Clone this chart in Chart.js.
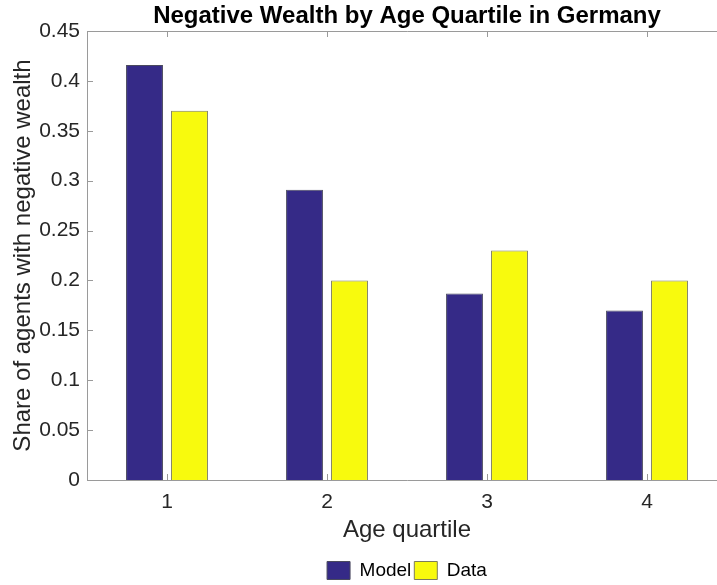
<!DOCTYPE html>
<html>
<head>
<meta charset="utf-8">
<title>Negative Wealth by Age Quartile in Germany</title>
<script src="https://cdn.jsdelivr.net/npm/chart.js@4.4.1/dist/chart.umd.min.js"></script>
<style>
  html, body { margin: 0; padding: 0; background: #fff; overflow: hidden; }
  #wrap { width: 760px; height: 590px; }
</style>
</head>
<body>
<div id="wrap"><canvas id="wealthChart" width="760" height="590"></canvas></div>
<script>
// Data
const quartiles = ["1", "2", "3", "4"];
const modelShare = [0.416, 0.291, 0.187, 0.170];
const dataShare = [0.370, 0.200, 0.230, 0.200];
const yTicks = [0, 0.05, 0.1, 0.15, 0.2, 0.25, 0.3, 0.35, 0.4, 0.45];

const FONT = "'Liberation Sans', Arial, Helvetica, sans-serif";
const AXIS_GRAY = "#9a9a9a";
const TEXT = "#262626";

// MATLAB-style box with inward tick marks
const boxTicks = {
  id: "boxTicks",
  afterDatasetsDraw(chart) {
    const { ctx, chartArea: a, scales } = chart;
    ctx.save();
    ctx.strokeStyle = AXIS_GRAY;
    ctx.lineWidth = 1;
    ctx.beginPath();
    ctx.moveTo(a.right, a.top + 0.5);
    ctx.lineTo(a.left + 0.5, a.top + 0.5);
    ctx.lineTo(a.left + 0.5, a.bottom + 0.5);
    ctx.lineTo(a.right, a.bottom + 0.5);
    ctx.stroke();

    ctx.beginPath();
    yTicks.forEach(v => {
      const y = Math.round(scales.y.getPixelForValue(v)) + 0.5;
      ctx.moveTo(a.left, y);
      ctx.lineTo(a.left + 6, y);
    });
    quartiles.forEach((q, i) => {
      const x = Math.round(scales.x.getPixelForValue(i)) + 0.5;
      ctx.moveTo(x, a.bottom);
      ctx.lineTo(x, a.bottom - 6);
      ctx.moveTo(x, a.top);
      ctx.lineTo(x, a.top + 6);
    });
    ctx.stroke();
    ctx.restore();
  }
};

new Chart(document.getElementById("wealthChart"), {
  type: "bar",
  data: {
    labels: quartiles,
    datasets: [
      {
        label: "Model",
        data: modelShare,
        backgroundColor: "#352a87",
        borderColor: "#4a4a5e",
        borderWidth: 1,
        categoryPercentage: 0.5625,
        barPercentage: 0.82,
      },
      {
        label: "Data",
        data: dataShare,
        backgroundColor: "#f8fa0d",
        borderColor: "#7c7c5c",
        borderWidth: 1,
        categoryPercentage: 0.5625,
        barPercentage: 0.82,
      },
    ],
  },
  options: {
    responsive: false,
    devicePixelRatio: 1,
    animation: false,
    layout: { padding: { left: 0, right: 33, top: 0, bottom: 0 } },
    plugins: {
      title: {
        display: true,
        text: "Negative Wealth by Age Quartile in Germany",
        fullSize: false,
        color: "#000",
        font: { family: FONT, size: 24, weight: "bold" },
        padding: { top: 2, bottom: 0.2 },
      },
      legend: {
        position: "bottom",
        fullSize: false,
        labels: {
          color: "#000",
          font: { family: FONT, size: 19 },
          boxWidth: 23,
          boxHeight: 18,
          padding: 3,
        },
      },
      tooltip: { enabled: false },
    },
    scales: {
      x: {
        offset: true,
        grid: { display: false, drawTicks: false },
        border: { display: false },
        ticks: { color: TEXT, font: { family: FONT, size: 21 }, padding: 10 },
        title: {
          display: true,
          text: "Age quartile",
          color: TEXT,
          font: { family: FONT, size: 24 },
          padding: { top: 2, bottom: 13 },
        },
        afterFit(scale) { scale.height = 78; },
      },
      y: {
        min: 0,
        max: 0.45,
        grid: { display: false, drawTicks: false },
        border: { display: false },
        afterBuildTicks(scale) { scale.ticks = yTicks.map(v => ({ value: v })); },
        ticks: {
          color: TEXT,
          font: { family: FONT, size: 21 },
          padding: 7,
          callback: v => String(+v.toFixed(2)),
        },
        title: {
          display: true,
          text: "Share of agents with negative wealth",
          color: TEXT,
          font: { family: FONT, size: 24 },
          padding: { top: 9, bottom: 0 },
        },
        afterFit(scale) { scale.width = 87; },
      },
    },
  },
  plugins: [boxTicks],
});
</script>
</body>
</html>
